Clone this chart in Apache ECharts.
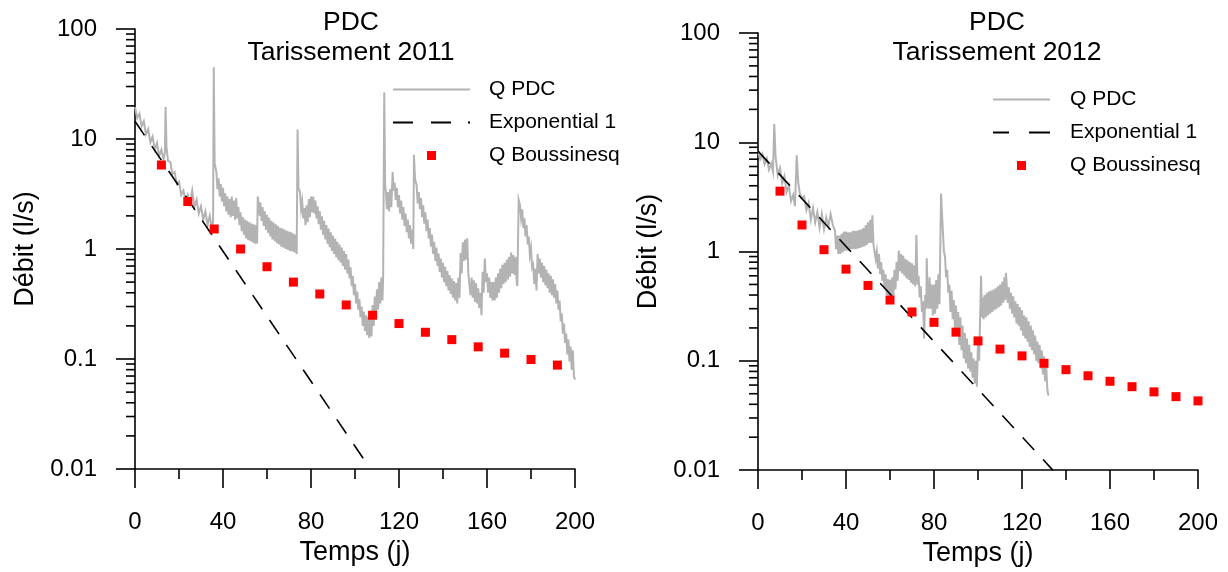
<!DOCTYPE html>
<html>
<head>
<meta charset="utf-8">
<script src="https://cdn.jsdelivr.net/npm/echarts@6/dist/echarts.min.js"></script>
<style>
html,body{margin:0;padding:0;background:#fff;}
#chart{width:1228px;height:572px;}
</style>
</head>
<body>
<div id="chart"></div>
<script>
// ---------- DATA ----------
const panelTitles = ['PDC\nTarissement 2011', 'PDC\nTarissement 2012'];
const seriesNames = ['Q PDC', 'Exponential 1', 'Q Boussinesq'];
const xAxisName = 'Temps (j)';
const yAxisName = 'Débit (l/s)';
const yTickLabels = ['0.01', '0.1', '1', '10', '100'];
const yMinorTicks = [0.02,0.03,0.04,0.05,0.06,0.07,0.08,0.09,
                     0.2,0.3,0.4,0.5,0.6,0.7,0.8,0.9,
                     2,3,4,5,6,7,8,9,
                     20,30,40,50,60,70,80,90];

// Q PDC 2011 : [day, l/s]
const qpdc2011 = [[0,19.5],[1,15.5],[2,17],[3,13],[4,14.5],[5,11],[6,12.3],[7,9.3],[8,10.5],[9,8],[10,9.2],[11,7],[12,8],[13,6.5],[13.6,7.5],[13.9,19.5],[14.3,8.5],[15,6.3],[16,6.2],[17,4.8],[18,5],[19,3.9],[20,4.1],[21,3.1],[22,3.4],[23,2.7],[24,3.1],[25,2.6],[26,3.4],[27,2.4],[28,2.8],[29,2.1],[30,2.45],[31,1.85],[32,2.2],[33,1.65],[34,2.0],[35,1.5],[35.5,1.8],[35.8,45],[36.2,6],
[37,5.0],[37.5,3.5],[38,4.4],[38.5,3.0],[39,3.9],[39.5,2.7],[40,3.6],[40.5,2.45],[41,3.2],[41.5,2.2],[42,3.0],[42.5,2.05],[43,2.85],[43.5,1.95],[44,3.0],[44.5,2.0],[45,2.75],[45.5,1.85],[46,2.9],[46.5,1.9],[47,2.4],[47.5,1.65],[48,2.15],[48.5,1.45],[49,1.95],[49.5,1.35],[50,1.85],[50.5,1.25],[51,1.8],[51.5,1.2],[52,1.75],[52.5,1.18],[53,1.7],[53.5,1.15],[54,1.68],[54.5,1.12],[55,1.65],[55.5,1.12],[55.8,3.0],[56.3,2.5],[56.7,2.0],
[57,2.65],[57.5,1.8],[58,2.4],[58.5,1.62],[59,2.2],[59.5,1.5],[60,2.05],[60.5,1.4],[61,1.92],[61.5,1.3],[62,1.8],[62.5,1.22],[63,1.74],[63.5,1.18],[64,1.68],[64.5,1.13],[65,1.62],[65.5,1.1],[66,1.56],[66.5,1.05],[67,1.54],[67.5,1.03],[68,1.5],[68.5,1.0],[69,1.46],[69.5,0.98],[70,1.44],[70.5,0.96],[71,1.42],[71.5,0.95],[72,1.38],[72.5,0.93],[73,1.35],[73.5,0.9],[73.9,12.2],[74.3,3.6],
[75,3.3],[75.5,2.3],[76,2.7],[76.5,1.9],[77,2.35],[77.5,1.65],[78,2.5],[78.5,1.75],[79,2.85],[79.5,1.95],[80,3.0],[80.5,2.15],[81,3.0],[81.5,2.1],[82,2.75],[82.5,1.9],[83,2.45],[83.5,1.68],[84,2.2],[84.5,1.5],[85,1.98],[85.5,1.35],[86,1.8],[86.5,1.22],[87,1.65],[87.5,1.12],[88,1.53],[88.5,1.04],[89,1.42],[89.5,0.96],[90,1.32],[90.5,0.9],[91,1.24],[91.5,0.84],[92,1.16],[92.5,0.79],[93,1.1],[93.5,0.75],[94,1.03],[94.5,0.7],[95,0.96],[95.5,0.65],[96,0.9],[96.5,0.6],[97,0.8],[97.5,0.54],[98,0.68],[98.5,0.46],[99,0.57],[99.5,0.38],[100,0.48],[100.5,0.32],[101,0.41],[101.5,0.28],[102,0.35],[102.5,0.24],[103,0.3],[103.5,0.2],[104,0.27],[104.5,0.18],[105,0.25],[105.5,0.165],[106,0.24],[106.5,0.155],[107,0.25],[107.5,0.16],[108,0.31],[108.5,0.2],[109,0.37],[109.5,0.25],[110,0.43],[110.5,0.28],[111,0.5],[111.5,0.32],[112,0.55],[112.5,0.34],[112.8,0.58],[113.3,26.5],[113.7,3.8],
[114,3.4],[114.5,2.3],[115,3.3],[115.5,2.2],[116,3.5],[116.5,2.4],[117.1,5.0],[117.6,3.4],[118,4.0],[118.5,2.8],[119,3.6],[119.5,2.4],[120,3.1],[120.5,2.1],[121,2.75],[121.5,1.85],[122,2.4],[122.5,1.62],[123,2.1],[123.5,1.42],[124,1.85],[124.5,1.25],[125,1.65],[125.5,1.12],[126,1.5],[126.5,1.0],[126.8,7.2],[127.3,4.3],
[128,3.8],[128.5,2.6],[129,3.3],[129.5,2.3],[130,2.9],[130.5,1.95],[131,2.5],[131.5,1.7],[132,2.15],[132.5,1.45],[133,1.85],[133.5,1.25],[134,1.55],[134.5,1.05],[135,1.35],[135.5,0.9],[136,1.16],[136.5,0.78],[137,1.03],[137.5,0.7],[138,0.91],[138.5,0.62],[139,0.82],[139.5,0.55],[140,0.75],[140.5,0.5],[141,0.69],[141.5,0.46],[142,0.63],[142.5,0.42],[143,0.58],[143.5,0.39],[144,0.54],[144.5,0.36],[145,0.51],[145.5,0.34],[146,0.49],[146.5,0.32],[147,0.55],[147.5,0.36],[148,0.92],[148.5,0.6],[149,1.15],[149.5,0.78],[150,1.22],[150.5,0.8],[151,1.25],[151.5,0.6],[152,0.58],[152.5,0.38],[153,0.55],[153.5,0.36],[154,0.52],[154.5,0.33],[155,0.49],[155.5,0.32],[156,0.44],[156.5,0.29],[157,0.4],[157.5,0.25],[158,0.62],[158.5,0.4],[159,0.82],[159.5,0.5],[160,0.6],[160.5,0.4],[161,0.55],[161.5,0.36],[162,0.5],[162.5,0.34],[163,0.5],[163.5,0.34],[164,0.55],[164.5,0.36],[165,0.6],[165.5,0.4],[166,0.66],[166.5,0.44],[167,0.72],[167.5,0.48],[168,0.75],[168.5,0.5],[169,0.8],[169.5,0.53],[170,0.85],[170.5,0.56],[171,0.93],[171.5,0.6],[172,0.88],[172.5,0.58],[173,0.85],[173.5,0.5],[173.8,0.46],[174.4,2.8],
[175,2.5],[175.5,1.9],[176,2.3],[176.5,1.55],[177,1.9],[177.5,1.3],[178,1.65],[178.5,1.1],[179,1.3],[179.5,0.88],[180,1.02],[180.5,0.68],[181,0.72],[181.5,0.48],[182,0.66],[182.5,0.42],[183,0.9],[183.5,0.6],[184,0.82],[184.5,0.55],[185,0.75],[185.5,0.5],[186,0.7],[186.5,0.47],[187,0.65],[187.5,0.44],[188,0.6],[188.5,0.4],[189,0.57],[189.5,0.38],[190,0.53],[190.5,0.36],[191,0.48],[191.5,0.32],[192,0.42],[192.5,0.28],[193,0.34],[193.5,0.22],[194,0.26],[194.5,0.17],[195,0.21],[195.5,0.14],[196,0.17],[196.5,0.11],[197,0.15],[197.5,0.095],[198,0.13],[198.5,0.08],[199,0.12],[199.5,0.07],[200,0.065]];

// Q PDC 2012 : [day, l/s]
const qpdc2012 = [[0,8.3],[1,7.0],[2,7.8],[3,6.3],[4,7.1],[5,5.6],[6,6.4],[6.8,5.4],[7.4,14.7],[8,7.3],[9,5.0],[10,5.8],[11,4.2],[12,4.9],[13,3.5],[14,4.0],[15,2.9],[16,3.3],[16.8,2.6],[17.6,7.6],[18.3,4.3],[19,3.4],[20,3.1],[21,3.2],[22,2.4],[23,2.8],[24,1.95],[25,2.5],[26,1.85],[27,2.3],[28,1.65],[29,2.2],[30,1.6],[31,2.05],[32,1.7],[33,2.2],[34,1.75],
[35,1.55],[35.5,1.05],[36,1.4],[36.5,0.95],[37,1.4],[37.5,0.95],[38,1.45],[38.5,0.98],[39,1.52],[39.5,1.02],[40,1.52],[40.5,1.02],[41,1.5],[41.5,1.02],[42,1.5],[42.5,1.05],[43,1.55],[43.5,1.05],[44,1.55],[44.5,1.05],[45,1.55],[45.5,1.07],[46,1.58],[46.5,1.08],[47,1.6],[47.5,1.1],[48,1.65],[48.5,1.12],[49,1.75],[49.5,1.15],[50,1.85],[50.5,1.2],[51,1.95],[51.5,1.2],[52,2.15],[52.5,1.15],[53,1.15],[53.5,0.85],[54,1.0],[54.5,0.7],[55,0.95],[55.5,0.62],[56,0.8],[56.5,0.54],[57,0.68],[57.5,0.46],[58,0.62],[58.5,0.4],[59,0.56],[59.5,0.37],[60,0.55],[60.5,0.35],[61,0.58],[61.5,0.38],[62,0.68],[62.5,0.45],[63,0.8],[63.5,0.54],[64,1.02],[64.5,0.66],[65,0.95],[65.5,0.63],[66,0.92],[66.5,0.6],[67,0.86],[67.5,0.57],[68,0.83],[68.5,0.55],[69,0.8],[69.5,0.52],[70,0.78],[70.5,0.5],[71,0.75],[71.5,0.48],[72,1.42],[72.5,0.5],[73,0.6],[73.5,0.38],[74,0.48],[74.5,0.28],[75,0.35],[75.5,0.16],[76,0.4],[76.5,0.3],[76.7,0.87],[77,0.5],[77.5,0.3],[78,0.58],[78.5,0.3],[79,0.5],[79.5,0.26],[80,0.5],[80.5,0.27],[81,0.55],[81.5,0.3],[82,0.62],[82.5,0.33],[83.2,3.4],[84,1.6],[84.5,1.0],
[85,0.9],[85.5,0.58],[86,0.68],[86.5,0.42],[87,0.5],[87.5,0.28],[88,0.44],[88.5,0.24],[89,0.36],[89.5,0.2],[90,0.32],[90.5,0.17],[91,0.28],[91.5,0.14],[92,0.25],[92.5,0.125],[93,0.21],[93.5,0.105],[94,0.18],[94.5,0.095],[95,0.16],[95.5,0.085],[96,0.14],[96.5,0.08],[97,0.12],[97.5,0.07],[98,0.105],[98.5,0.062],[99,0.1],[99.5,0.058],[100,0.15],[100.5,0.1],[101,0.27],[101.4,0.6],[101.8,0.25],[102,0.38],[102.5,0.24],[103,0.4],[103.5,0.25],[104,0.42],[104.5,0.26],[105,0.43],[105.5,0.27],[106,0.44],[106.5,0.28],[107,0.45],[107.5,0.29],[108,0.46],[108.5,0.3],[109,0.48],[109.5,0.31],[110,0.5],[110.5,0.32],[111,0.53],[111.5,0.34],[112,0.58],[112.4,0.36],[112.7,0.64],[113,0.52],[113.5,0.34],[114,0.47],[114.5,0.3],[115,0.42],[115.5,0.27],[116,0.39],[116.5,0.25],[117,0.35],[117.5,0.22],[118,0.33],[118.5,0.21],[119,0.31],[119.5,0.19],[120,0.29],[120.5,0.17],[121,0.26],[121.5,0.16],[122,0.25],[122.5,0.15],[123,0.23],[123.5,0.135],[124,0.21],[124.5,0.125],[125,0.19],[125.5,0.115],[126,0.17],[126.5,0.1],[127,0.15],[127.5,0.095],[128,0.14],[128.5,0.085],[129,0.125],[129.5,0.075],[130,0.11],[130.5,0.065],[131,0.09],[131.5,0.055],[132,0.048]];

// Exponential fits (straight lines on the log scale)
const exp2011 = [[0,14.5],[107,0.01]];
const exp2012 = [[0,8.3],[134,0.01]];

// Boussinesq model
const bous2011Days = [12,24,36,48,60,72,84,96,108,120,132,144,156,168,180,192];
const bous2011 = [5.8,2.7,1.52,1.0,0.69,0.5,0.39,0.31,0.25,0.21,0.175,0.15,0.129,0.113,0.099,0.088];
const bous2012Days = [10,20,30,40,50,60,70,80,90,100,110,120,130,140,150,160,170,180,190,200];
const bous2012 = [3.57,1.75,1.04,0.69,0.49,0.36,0.28,0.225,0.183,0.152,0.128,0.111,0.095,0.083,0.073,0.065,0.058,0.052,0.047,0.043];

// ---------- CHART ----------
const FONT = 'Liberation Sans, Arial, sans-serif';
const chart = echarts.init(document.getElementById('chart'), null, {renderer: 'canvas'});

const grids = [
  {left: 135, top: 29, width: 440, height: 440},
  {left: 758, top: 33, width: 440, height: 440}
];
const titleCenters = [{x: 351, y: 8}, {x: 997, y: 8}];
const legendPos = [
  {left: 393, top: 79, itemWidth: 77, pad: 14, gap: 12,
   icons: ['path://M0,0H77V2H0Z', 'path://M0,0H20V2H0Z M38,0H58V2H38Z M75,0H77V2H75Z', 'path://M0,0H10V10H0Z']},
  {left: 993, top: 89, itemWidth: 57, pad: 15, gap: 12,
   icons: ['path://M0,0H57V2H0Z', 'path://M0,0H16V2H0Z M36,0H57V2H36Z', 'path://M0,0H10V10H0Z']}
];
const PDC = [qpdc2011, qpdc2012];
const EXP = [exp2011, exp2012];
const BOUS = [bous2011Days.map((d, i) => [d, bous2011[i]]), bous2012Days.map((d, i) => [d, bous2012[i]])];

const axisLineStyle = {color: '#000', width: 1.6};

const option = {
  animation: false,
  backgroundColor: '#fff',
  title: panelTitles.map((t, i) => ({
    text: t,
    left: titleCenters[i].x,
    top: titleCenters[i].y,
    textAlign: 'center',
    padding: 0,
    textStyle: {fontFamily: FONT, fontSize: 26.5, fontWeight: 'normal', color: '#000', lineHeight: 30}
  })),
  legend: legendPos.map((p, i) => ({
    data: seriesNames.map((n, k) => ({name: n, icon: p.icons[k]})),
    orient: 'vertical',
    left: p.left,
    top: p.top,
    padding: 0,
    itemGap: p.gap,
    itemWidth: p.itemWidth,
    itemHeight: 9,
    selectedMode: false,
    textStyle: {fontFamily: FONT, fontSize: 21, color: '#000', padding: [0, 0, 0, p.pad]}
  })),
  grid: grids,
  xAxis: grids.map((g, i) => ({
    type: 'value',
    gridIndex: i,
    min: 0, max: 200, interval: 40,
    name: xAxisName,
    nameLocation: 'middle',
    nameGap: 69,
    nameTextStyle: {fontFamily: FONT, fontSize: 27, color: '#000'},
    axisLine: {show: true, onZero: false, lineStyle: axisLineStyle},
    axisTick: {show: true, length: 19, lineStyle: axisLineStyle},
    minorTick: {show: true, splitNumber: 2, length: 10, lineStyle: axisLineStyle},
    axisLabel: {fontFamily: FONT, fontSize: 24, color: '#000', margin: 41},
    splitLine: {show: false},
    minorSplitLine: {show: false}
  })),
  yAxis: grids.map((g, i) => ({
    type: 'log',
    logBase: 10,
    gridIndex: i,
    min: 0.01, max: 100,
    name: yAxisName,
    nameLocation: 'middle',
    nameRotate: 90,
    nameGap: 96,
    nameTextStyle: {fontFamily: FONT, fontSize: 27, color: '#000'},
    axisLine: {show: true, onZero: false, lineStyle: axisLineStyle},
    axisTick: {show: true, length: 19, lineStyle: axisLineStyle},
    axisLabel: {
      fontFamily: FONT, fontSize: 24, color: '#000', margin: 38,
      formatter: v => yTickLabels[Math.round(Math.log10(v)) + 2]
    },
    splitLine: {show: false}
  })),
  series: []
};

for (let i = 0; i < 2; i++) {
  option.series.push({
    name: 'Q PDC', type: 'line', xAxisIndex: i, yAxisIndex: i,
    data: PDC[i], showSymbol: false, symbol: 'none',
    lineStyle: {color: '#b3b3b3', width: 2, join: 'miter'}, itemStyle: {color: '#b3b3b3'},
    z: 2
  });
  option.series.push({
    name: 'Exponential 1', type: 'line', xAxisIndex: i, yAxisIndex: i,
    data: EXP[i], showSymbol: false, symbol: 'none',
    lineStyle: {color: '#000', width: 1.6, type: [17, 13]}, itemStyle: {color: '#000'},
    z: 3
  });
  option.series.push({
    name: 'Q Boussinesq', type: 'scatter', xAxisIndex: i, yAxisIndex: i,
    data: BOUS[i], symbol: 'rect', symbolSize: 9,
    itemStyle: {color: '#ff0000', opacity: 1},
    z: 4
  });
  option.series.push({
    name: 'minor-ticks', type: 'custom', xAxisIndex: i, yAxisIndex: i,
    silent: true, clip: false,
    data: yMinorTicks.map(v => [0, v]),
    encode: {x: 0, y: 1},
    renderItem: (params, api) => {
      const p = api.coord([api.value(0), api.value(1)]);
      return {type: 'line', shape: {x1: p[0] - 9, y1: p[1], x2: p[0], y2: p[1]},
              style: {stroke: '#000', lineWidth: 1.6}};
    },
    z: 5
  });
}

chart.setOption(option);
</script>
</body>
</html>
